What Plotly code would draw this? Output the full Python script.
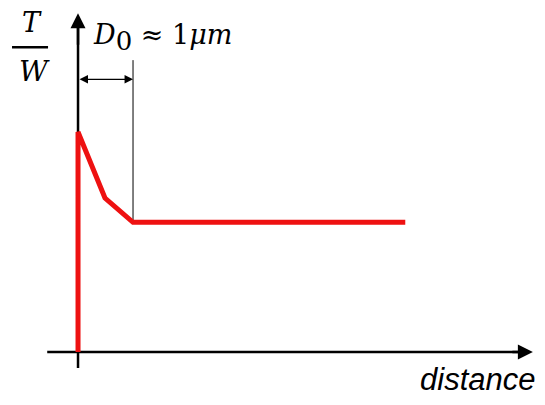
import plotly.graph_objects as go

# red curve: distance (in units of D0) vs T/W (normalised)
distance = [0, 0, 0.49, 1.0, 5.95]
t_over_w = [0, 1.0, 0.70, 0.59, 0.59]

d0 = 1.0
x_axis_span = [-0.56, 8.27]
y_axis_span = [-0.073, 1.54]

fig = go.Figure()

# axes lines (below the red curve)
fig.add_shape(type="line", x0=x_axis_span[0], x1=x_axis_span[1] - 0.2, y0=0, y1=0,
              line=dict(color="black", width=2.5), layer="below")
fig.add_shape(type="line", x0=0, x1=0, y0=y_axis_span[0], y1=y_axis_span[1] - 0.05,
              line=dict(color="black", width=2.5), layer="below")

# thin marker line at D0
fig.add_shape(type="line", x0=d0, x1=d0, y0=t_over_w[3], y1=1.327,
              line=dict(color="black", width=1), layer="below")

fig.add_trace(go.Scatter(x=distance, y=t_over_w, mode="lines",
                         line=dict(color="#ee1111", width=5), hoverinfo="skip"))

# arrow heads of the axes
fig.add_annotation(x=x_axis_span[1], y=0, ax=x_axis_span[1] - 0.4, ay=0,
                   axref="x", ayref="y", showarrow=True, arrowhead=2,
                   arrowsize=1.2, arrowwidth=2.5, arrowcolor="black", text="")
fig.add_annotation(x=0, y=y_axis_span[1], ax=0, ay=y_axis_span[1] - 0.15,
                   axref="x", ayref="y", showarrow=True, arrowhead=2,
                   arrowsize=1.2, arrowwidth=2.5, arrowcolor="black", text="")

# D0 dimension arrow
fig.add_annotation(x=d0, y=1.24, ax=0, ay=1.24, axref="x", ayref="y",
                   showarrow=True, arrowhead=2, startarrowhead=2, arrowside="end+start",
                   arrowsize=1.3, startarrowsize=1.3, arrowwidth=1.3,
                   arrowcolor="black", text="")

fig.add_annotation(x=0.23, y=1.43, xanchor="left", yanchor="middle", showarrow=False,
                   text="<i>D</i><sub><span style='font-size:26px'>0</span></sub> ≈ 1<i>μm</i>",
                   font=dict(family="DejaVu Serif", size=27, color="black"))

# T/W label
fig.add_annotation(x=-0.836, y=1.50, showarrow=False, text="<i>T</i>",
                   font=dict(family="DejaVu Serif", size=27, color="black"))
fig.add_shape(type="line", x0=-1.20, x1=-0.545, y0=1.386, y1=1.386,
              line=dict(color="black", width=2.5))
fig.add_annotation(x=-0.80, y=1.275, showarrow=False, text="<i>W</i>",
                   font=dict(family="DejaVu Serif", size=28, color="black"))

fig.add_annotation(x=8.345, y=-0.125, xanchor="right", yanchor="middle", showarrow=False,
                   text="<i>distance</i>",
                   font=dict(family="Liberation Sans", size=31, color="black"))

# page body has an 8px margin, ranges account for it
fig.update_layout(
    width=545, height=405,
    margin=dict(l=0, r=0, t=0, b=0),
    paper_bgcolor="white", plot_bgcolor="white",
    showlegend=False,
    xaxis=dict(range=[-1.273, 8.636], visible=False, fixedrange=True),
    yaxis=dict(range=[-0.277, 1.564], visible=False, fixedrange=True),
)

fig.write_html("out.html")
